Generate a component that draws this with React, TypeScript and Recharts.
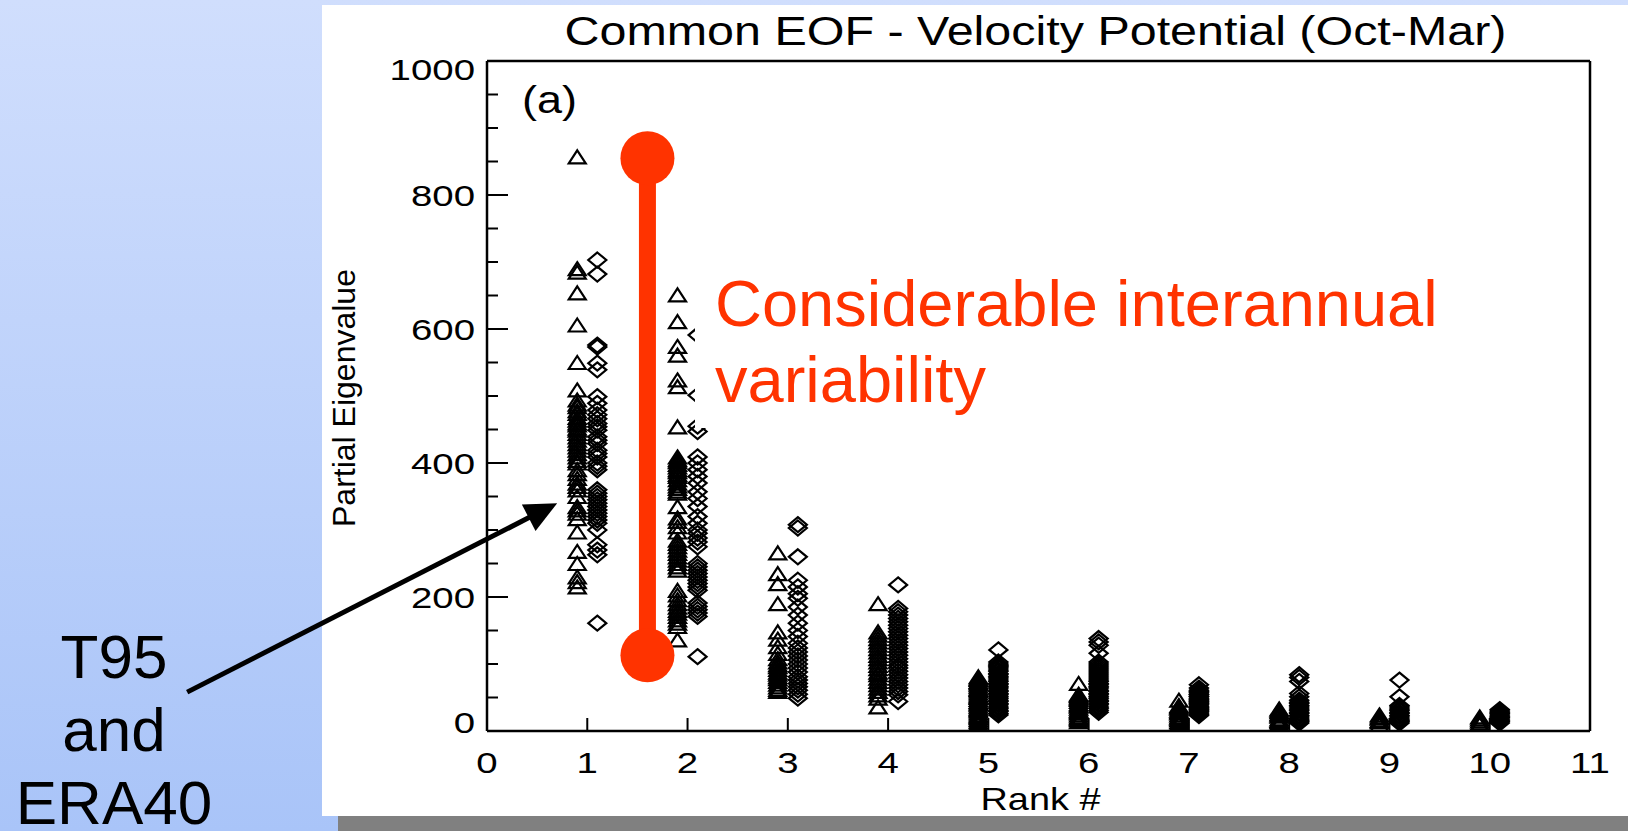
import React from 'react';
import {
  ScatterChart,
  Scatter,
  XAxis,
  YAxis,
  ReferenceLine,
  ReferenceDot,
  Label
} from 'recharts';

// partial eigenvalues per rank
const ranks = [1, 2, 3, 4, 5, 6, 7, 8, 9, 10];

// triangles (left of each rank)
const t95Rank1 = [857, 690, 685, 654, 606, 550, 509, 494, 488, 484, 478, 474, 468, 464, 460, 457, 452, 449, 444, 439, 434, 429, 424, 419, 414, 409, 404, 400, 390, 384, 377, 370, 365, 360, 350, 335, 330, 325, 317, 297, 268, 250, 230, 223, 215];
const t95Rank2 = [651, 611, 574, 561, 524, 514, 454, 409, 405, 402, 398, 394, 390, 387, 383, 380, 375, 370, 366, 362, 358, 355, 335, 318, 313, 305, 297, 285, 280, 275, 270, 265, 260, 255, 250, 245, 240, 210, 203, 196, 190, 185, 180, 176, 171, 166, 161, 156, 136];
const t95Rank3 = [266, 235, 220, 190, 148, 137, 126, 116, 108, 103, 99, 96, 92, 88, 85, 81, 78, 74, 70, 66, 62, 59];
const t95Rank4 = [190, 148, 143, 138, 133, 128, 123, 118, 113, 108, 103, 98, 93, 88, 84, 79, 74, 69, 64, 59, 54, 49, 36];
const t95Rank5 = [81, 79, 77, 74, 72, 70, 67, 64, 62, 60, 57, 54, 52, 50, 47, 44, 42, 40, 37, 34, 32, 30, 27, 24, 22, 20, 17, 14, 11];
const t95Rank6 = [71, 55, 53, 51, 49, 47, 44, 41, 39, 37, 34, 31, 29, 27, 24, 21, 19, 17, 14];
const t95Rank7 = [46, 38, 36, 34, 31, 29, 27, 24, 21, 19, 17, 14, 11];
const t95Rank8 = [33, 31, 29, 26, 24, 22, 18, 16, 14, 11];
const t95Rank9 = [24, 21, 19, 16, 14, 10];
const t95Rank10 = [21, 18, 15, 12, 10];

// diamonds (right of each rank)
const era40Rank1 = [703, 682, 576, 573, 549, 539, 499, 489, 479, 472, 466, 459, 454, 449, 439, 434, 429, 419, 414, 409, 400, 395, 390, 360, 355, 350, 345, 340, 335, 330, 325, 320, 315, 310, 300, 278, 270, 263, 161];
const era40Rank2 = [591, 501, 455, 447, 409, 400, 390, 380, 370, 357, 347, 335, 320, 310, 300, 295, 288, 282, 275, 250, 245, 240, 235, 230, 225, 220, 215, 210, 191, 186, 181, 176, 171, 111];
const era40Rank3 = [308, 303, 260, 225, 215, 205, 198, 185, 173, 161, 150, 141, 131, 124, 118, 112, 106, 100, 94, 88, 81, 76, 71, 66, 61, 55, 49];
const era40Rank4 = [218, 183, 178, 173, 168, 163, 158, 153, 148, 143, 138, 133, 128, 123, 118, 113, 108, 103, 98, 94, 89, 84, 79, 74, 69, 64, 59, 54, 44];
const era40Rank5 = [121, 103, 100, 98, 96, 94, 91, 89, 86, 84, 81, 79, 76, 74, 71, 69, 66, 64, 61, 59, 56, 54, 51, 49, 46, 44, 41, 39, 36, 34, 31, 29, 26, 24];
const era40Rank6 = [138, 133, 128, 116, 103, 100, 97, 94, 91, 88, 85, 82, 79, 76, 74, 71, 69, 66, 64, 61, 59, 56, 54, 51, 49, 46, 44, 41, 39, 36, 34, 31, 28];
const era40Rank7 = [69, 64, 61, 59, 57, 55, 54, 52, 51, 49, 47, 45, 44, 42, 41, 39, 37, 35, 34, 32, 31, 29, 27, 25, 23];
const era40Rank8 = [84, 80, 74, 56, 51, 46, 43, 41, 38, 36, 33, 31, 28, 26, 23, 21, 18, 16, 14, 12];
const era40Rank9 = [76, 51, 38, 36, 33, 31, 28, 26, 23, 21, 18, 16, 14, 12];
const era40Rank10 = [32, 30, 28, 26, 24, 22, 20, 18, 16, 14, 12];

const t95ByRank = [t95Rank1, t95Rank2, t95Rank3, t95Rank4, t95Rank5, t95Rank6, t95Rank7, t95Rank8, t95Rank9, t95Rank10];
const era40ByRank = [era40Rank1, era40Rank2, era40Rank3, era40Rank4, era40Rank5, era40Rank6, era40Rank7, era40Rank8, era40Rank9, era40Rank10];

const xTicks = [0, 1, 2, 3, 4, 5, 6, 7, 8, 9, 10, 11];
const yTicks = [0, 50, 100, 150, 200, 250, 300, 350, 400, 450, 500, 550, 600, 650, 700, 750, 800, 850, 900, 950, 1000];
const yLabelTicks = [0, 200, 400, 600, 800, 1000];

// annotation: spread bar at rank 1.6, arrow pointing at the rank-1 column
const spreadRange = [113, 855];
const spreadRank = 1.6;
const arrowFrom = { x: -2.99, y: 58 };
const arrowTo = { x: 0.7, y: 340 };

const trianglePoints = ranks.flatMap((rank, i) => t95ByRank[i].map(v => ({ x: rank - 0.1, y: v })));
const diamondPoints = ranks.flatMap((rank, i) => era40ByRank[i].map(v => ({ x: rank + 0.1, y: v })));

const FONT = '"Liberation Sans", Arial, Helvetica, sans-serif';
const RED = '#ff3300';
const STRETCH = 1.28;
const axisStyle = { stroke: '#000', strokeWidth: 2.5 };

const TriangleMark = (props: any) => {
  const { cx, cy } = props;
  if (cx == null || cy == null) return <g />;
  return (
    <polygon
      points={`${cx},${cy - 6.5} ${cx + 8.5},${cy + 6.5} ${cx - 8.5},${cy + 6.5}`}
      fill="none"
      stroke="#000"
      strokeWidth={2.2}
    />
  );
};

const DiamondMark = (props: any) => {
  const { cx, cy } = props;
  if (cx == null || cy == null) return <g />;
  return (
    <polygon
      points={`${cx},${cy - 7.5} ${cx + 9},${cy} ${cx},${cy + 7.5} ${cx - 9},${cy}`}
      fill="none"
      stroke="#000"
      strokeWidth={2.2}
    />
  );
};

const renderBottomTick = (props: any) => {
  const { x, y, payload } = props;
  return (
    <g>
      <line x1={x} y1={y} x2={x} y2={y - 13} stroke="#000" strokeWidth={2} />
      <text transform={`translate(${x},${y + 42}) scale(${STRETCH},1)`} textAnchor="middle" fontSize={30} fontFamily={FONT} fill="#000">
        {payload.value}
      </text>
    </g>
  );
};

const renderTopTick = (props: any) => {
  const { x, y } = props;
  return <line x1={x} y1={y} x2={x} y2={y + 13} stroke="#000" strokeWidth={2} />;
};

const renderLeftTick = (props: any) => {
  const { x, y, payload } = props;
  const v = payload.value;
  const major = yLabelTicks.includes(v);
  const shift = v === 1000 ? 8 : v === 0 ? -9 : 0;
  return (
    <g>
      <line x1={x} y1={y} x2={x + (major ? 21 : 11)} y2={y} stroke="#000" strokeWidth={2} />
      {major && (
        <text transform={`translate(${x - 12},${y + 11 + shift}) scale(${STRETCH},1)`} textAnchor="end" fontSize={30} fontFamily={FONT} fill="#000">
          {v}
        </text>
      )}
    </g>
  );
};

const renderRightTick = (props: any) => {
  const { x, y, payload } = props;
  const major = yLabelTicks.includes(payload.value);
  return <line x1={x} y1={y} x2={x - (major ? 21 : 11)} y2={y} stroke="#000" strokeWidth={2} />;
};

const vbOf = (props: any, fallback: any) => props?.viewBox ?? fallback;

const renderTitle = (props: any) => {
  const vb = vbOf(props, { x: 487, y: 41, width: 1103, height: 20 });
  return (
    <text x={vb.x + vb.width / 2 - 3} y={vb.y + 4} textAnchor="middle" fontSize={40} fontFamily={FONT} fill="#000" textLength={942} lengthAdjust="spacingAndGlyphs">
      Common EOF - Velocity Potential (Oct-Mar)
    </text>
  );
};

const renderPanelTag = (props: any) => {
  const vb = vbOf(props, { x: 487, y: 41, width: 1103, height: 20 });
  return (
    <text x={vb.x + 35} y={vb.y + 72} fontSize={38} fontFamily={FONT} fill="#000" textLength={55} lengthAdjust="spacingAndGlyphs">
      (a)
    </text>
  );
};

const renderRankLabel = (props: any) => {
  const vb = vbOf(props, { x: 487, y: 731, width: 1103, height: 60 });
  return (
    <text x={vb.x + vb.width / 2 + 2} y={vb.y + 79} textAnchor="middle" fontSize={32} fontFamily={FONT} fill="#000" textLength={120} lengthAdjust="spacingAndGlyphs">
      Rank #
    </text>
  );
};

const renderEigenLabel = (props: any) => {
  const vb = vbOf(props, { x: 427, y: 61, width: 60, height: 670 });
  const cx = vb.x - 83;
  const cy = vb.y + vb.height / 2 + 2;
  return (
    <text x={cx} y={cy} transform={`rotate(-90, ${cx}, ${cy})`} textAnchor="middle" dominantBaseline="central" fontSize={32} fontFamily={FONT} fill="#000">
      Partial Eigenvalue
    </text>
  );
};

const ArrowShape = (props: any) => {
  const { x1, y1, x2, y2 } = props;
  const ang = Math.atan2(y2 - y1, x2 - x1);
  const len = 32;
  const half = 15;
  const bx = x2 - len * Math.cos(ang);
  const by = y2 - len * Math.sin(ang);
  const px = -Math.sin(ang) * half;
  const py = Math.cos(ang) * half;
  return (
    <g>
      <line x1={x1} y1={y1} x2={bx + 2 * Math.cos(ang)} y2={by + 2 * Math.sin(ang)} stroke="#000" strokeWidth={5} />
      <polygon points={`${x2},${y2} ${bx + px},${by + py} ${bx - px},${by - py}`} fill="#000" />
    </g>
  );
};

const EofChart: React.FC = () => (
  <ScatterChart width={1628} height={831} margin={{ top: 41, right: 28, bottom: 40, left: 427 }}>
    <XAxis
      xAxisId="bottom"
      type="number"
      dataKey="x"
      domain={[0, 11]}
      ticks={xTicks}
      interval={0}
      tickSize={0}
      tickMargin={0}
      tickLine={false}
      axisLine={axisStyle}
      height={60}
      tick={renderBottomTick}
    >
      <Label content={renderRankLabel} />
    </XAxis>
    <XAxis
      xAxisId="top"
      orientation="top"
      type="number"
      domain={[0, 11]}
      ticks={xTicks}
      interval={0}
      tickSize={0}
      tickMargin={0}
      tickLine={false}
      axisLine={axisStyle}
      height={20}
      tick={renderTopTick}
    >
      <Label content={renderTitle} />
      <Label content={renderPanelTag} />
    </XAxis>
    <YAxis
      yAxisId="left"
      type="number"
      dataKey="y"
      domain={[0, 1000]}
      ticks={yTicks}
      interval={0}
      tickSize={0}
      tickMargin={0}
      tickLine={false}
      axisLine={axisStyle}
      width={60}
      tick={renderLeftTick}
    >
      <Label content={renderEigenLabel} />
    </YAxis>
    <YAxis
      yAxisId="right"
      orientation="right"
      type="number"
      domain={[0, 1000]}
      ticks={yTicks}
      interval={0}
      tickSize={0}
      tickMargin={0}
      tickLine={false}
      axisLine={axisStyle}
      width={10}
      tick={renderRightTick}
    />
    <Scatter xAxisId="bottom" yAxisId="left" data={trianglePoints} shape={TriangleMark} isAnimationActive={false} />
    <Scatter xAxisId="bottom" yAxisId="left" data={diamondPoints} shape={DiamondMark} isAnimationActive={false} />
    <ReferenceLine
      xAxisId="bottom"
      yAxisId="left"
      segment={[{ x: spreadRank, y: spreadRange[0] }, { x: spreadRank, y: spreadRange[1] }]}
      stroke={RED}
      strokeWidth={17}
      ifOverflow="visible"
    />
    <ReferenceDot xAxisId="bottom" yAxisId="left" x={spreadRank} y={spreadRange[0]} r={27} fill={RED} stroke="none" ifOverflow="visible" />
    <ReferenceDot xAxisId="bottom" yAxisId="left" x={spreadRank} y={spreadRange[1]} r={27} fill={RED} stroke="none" ifOverflow="visible" />
    <ReferenceLine
      xAxisId="bottom"
      yAxisId="left"
      segment={[arrowFrom, arrowTo]}
      ifOverflow="visible"
      shape={ArrowShape}
    />
  </ScatterChart>
);

const sideLine = (top: number): React.CSSProperties => ({
  position: 'absolute',
  left: 0,
  top,
  width: 228,
  height: 50,
  textAlign: 'center',
  fontSize: 62,
  lineHeight: '50px',
  color: '#000'
});

export default function App() {
  return (
    <div
      style={{
        position: 'fixed',
        left: 0,
        top: 0,
        width: 1628,
        height: 831,
        overflow: 'hidden',
        background: 'linear-gradient(180deg, #d0defd 0%, #a9c4f8 100%)',
        fontFamily: FONT
      }}
    >
      <div style={{ position: 'absolute', left: 322, top: 5, right: 0, height: 811, background: '#fff' }} />
      <div style={{ position: 'absolute', left: 338, top: 816, right: 0, bottom: 0, background: '#808080' }} />
      <div style={{ position: 'absolute', left: 0, top: 0 }}>
        <EofChart />
      </div>
      <div
        style={{
          position: 'absolute',
          left: 695,
          top: 266,
          width: 740,
          height: 162,
          background: '#fff',
          color: RED,
          fontSize: 65,
          lineHeight: '76px',
          paddingLeft: 20,
          boxSizing: 'border-box',
          whiteSpace: 'nowrap'
        }}
      >
        Considerable interannual
        <br />
        variability
      </div>
      <div style={sideLine(632)}>T95</div>
      <div style={sideLine(705)}>and</div>
      <div style={sideLine(778)}>ERA40</div>
    </div>
  );
}
